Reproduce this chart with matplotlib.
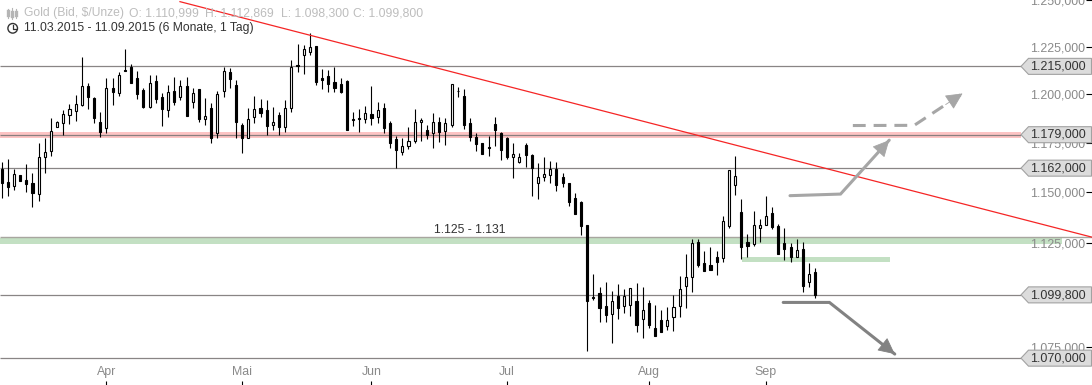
import matplotlib
matplotlib.use('Agg')
import matplotlib.pyplot as plt
from matplotlib.patches import Polygon, Circle
from matplotlib.ticker import NullLocator
from matplotlib.transforms import IdentityTransform
import numpy as np

plt.rcParams['font.family'] = ['Liberation Sans', 'DejaVu Sans']

W, H = 1092, 385

# daily candles, price in $/Unze
opens = [1161.6,1155.0,1153.2,1158.4,1155.9,1154.5,1148.8,1167.8,1170.8,1183.1,
         1185.2,1189.3,1191.3,1194.1,1204.0,1197.7,1185.3,1182.6,1203.4,1200.6,
         1212.5,1214.1,1208.2,1202.0,1193.4,1206.8,1198.2,1191.8,1201.5,1198.2,
         1204.0,1196.1,1202.4,1187.2,1193.0,1179.7,1201.7,1211.3,1204.5,1183.8,
         1177.1,1187.9,1192.5,1191.5,1183.8,1188.9,1183.1,1193.0,1215.1,1220.7,
         1222.1,1225.1,1208.3,1209.2,1206.2,1205.2,1206.8,1187.0,1187.6,1187.2,
         1189.4,1188.2,1193.0,1184.8,1176.8,1170.3,1173.3,1175.9,1185.3,1181.2,
         1180.0,1185.3,1181.0,1184.1,1201.7,1199.2,1184.8,1177.6,1174.6,1172.6,
         1184.3,1179.7,1177.1,1167.8,1165.1,1173.5,1168.9,1154.7,1157.7,1158.7,
         1161.4,1157.4,1154.4,1146.8,1145.0,1133.7,1098.8,1100.5,1094.5,1090.6,
         1099.2,1094.3,1094.8,1096.8,1088.2,1095.7,1084.1,1087.9,1084.9,1089.2,
         1094.3,1103.9,1108.2,1125.3,1115.1,1114.0,1118.0,1117.4,1133.4,1153.4,
         1140.1,1125.2,1124.5,1132.4,1133.9,1139.4,1133.0,1124.7,1122.7,1118.2,
         1121.7,1106.1,1110.999]
highs = [1164.9,1166.4,1161.6,1158.4,1164.1,1159.4,1174.9,1177.1,1187.6,1186.2,
         1191.7,1194.7,1199.4,1219.3,1205.5,1198.7,1190.5,1208.2,1208.2,1211.5,
         1223.5,1215.5,1212.0,1202.9,1210.1,1209.9,1200.6,1204.7,1208.7,1207.3,
         1208.7,1203.4,1202.4,1197.7,1195.4,1201.7,1214.3,1213.4,1207.3,1185.2,
         1192.5,1199.2,1197.2,1196.8,1193.4,1190.8,1196.8,1218.1,1226.6,1225.7,
         1232.0,1225.1,1213.0,1212.5,1214.3,1208.2,1207.1,1190.6,1192.2,1193.7,
         1204.1,1195.8,1195.3,1186.2,1178.3,1177.1,1182.8,1192.2,1187.4,1184.0,
         1190.0,1188.2,1187.4,1205.0,1203.8,1202.4,1187.4,1179.7,1174.6,1178.3,
         1187.9,1180.2,1178.0,1174.9,1169.9,1174.9,1169.4,1164.4,1167.6,1165.6,
         1165.1,1159.7,1154.7,1149.4,1145.5,1133.7,1109.8,1103.6,1106.0,1101.6,
         1104.9,1102.4,1102.9,1105.3,1103.6,1097.3,1094.9,1092.6,1093.9,1099.7,
         1108.9,1119.5,1126.8,1126.8,1120.9,1122.7,1121.1,1138.1,1160.9,1168.1,
         1146.3,1129.3,1140.6,1136.5,1148.0,1142.4,1134.2,1132.1,1124.7,1126.6,
         1125.2,1115.0,1112.869]
lows = [1147.2,1148.2,1151.0,1155.7,1150.2,1142.7,1145.7,1159.4,1168.3,1183.1,
        1178.8,1184.5,1186.2,1193.7,1192.3,1184.8,1178.0,1180.0,1194.2,1198.9,
        1212.2,1205.9,1197.2,1192.5,1192.9,1195.1,1183.6,1188.2,1194.2,1196.8,
        1188.7,1193.0,1185.7,1183.8,1174.9,1177.4,1198.5,1202.9,1177.1,1169.8,
        1177.1,1185.2,1188.2,1178.8,1181.4,1178.8,1180.5,1190.8,1211.6,1210.6,
        1220.4,1204.7,1202.6,1201.2,1201.2,1200.6,1181.6,1183.6,1180.5,1184.8,
        1184.0,1185.2,1179.7,1172.3,1162.2,1168.9,1171.8,1174.9,1175.9,1176.6,
        1172.3,1175.4,1173.7,1183.1,1198.2,1181.9,1175.9,1170.8,1169.1,1168.3,
        1173.3,1166.2,1166.8,1157.2,1164.4,1162.7,1148.2,1146.7,1155.5,1154.4,
        1150.5,1152.7,1143.2,1139.3,1128.8,1073.5,1097.3,1087.0,1087.0,1077.2,
        1088.5,1091.4,1089.9,1082.0,1079.6,1084.0,1080.5,1082.4,1083.2,1082.7,
        1089.5,1093.7,1101.3,1113.4,1111.4,1111.9,1109.3,1115.6,1132.4,1148.5,
        1117.1,1118.0,1123.5,1125.3,1133.9,1131.9,1119.6,1116.6,1115.8,1118.2,
        1101.2,1103.6,1098.3]
closes = [1154.7,1152.7,1159.1,1155.7,1154.2,1149.4,1167.8,1170.4,1180.7,1185.3,
          1189.4,1192.0,1194.6,1204.0,1198.5,1187.4,1180.2,1203.4,1201.2,1209.7,
          1212.2,1205.9,1200.1,1193.4,1205.5,1197.5,1192.3,1200.8,1195.9,1204.0,
          1188.7,1200.3,1186.9,1188.4,1177.1,1199.8,1212.3,1208.0,1185.7,1177.4,
          1186.9,1192.0,1190.3,1183.6,1185.3,1183.1,1192.5,1214.3,1214.6,1223.5,
          1224.8,1206.4,1207.3,1205.4,1203.3,1201.0,1181.6,1186.7,1187.2,1190.0,
          1187.7,1191.7,1182.6,1174.9,1171.3,1173.0,1175.6,1185.3,1186.4,1178.6,
          1185.3,1180.5,1184.8,1205.0,1201.4,1184.1,1177.6,1174.4,1169.3,1172.3,
          1181.4,1171.3,1167.8,1169.4,1167.4,1168.9,1162.1,1157.4,1158.9,1161.4,
          1153.7,1154.7,1145.2,1139.3,1133.4,1097.0,1098.4,1093.7,1090.4,1096.7,
          1093.7,1099.5,1102.9,1085.7,1092.4,1085.7,1080.5,1082.4,1087.7,1093.9,
          1102.4,1108.2,1124.7,1114.2,1111.4,1111.9,1115.8,1135.5,1160.9,1157.9,
          1123.0,1123.5,1133.5,1133.5,1138.0,1132.6,1119.6,1122.1,1118.2,1121.2,
          1104.2,1109.7,1099.8]

month_pos = [17, 39, 60, 82, 105, 124]
month_labels = ['Apr', 'Mai', 'Jun', 'Jul', 'Aug', 'Sep']

tick_vals = [1250, 1225, 1200, 1175, 1150, 1125, 1100, 1075]
tick_labels = ['1.250,000', '1.225,000', '1.200,000', '1.175,000', '1.150,000',
               '1.125,000', '1.100,000', '1.075,000']

level_vals = [1214.5, 1179, 1162, 1099.8, 1070]
level_labels = ['1.215,000', '1.179,000', '1.162,000', '1.099,800', '1.070,000']

trend_x = [28.93, 176.9]
trend_y = [1249.1, 1127.7]

# arrows: (start, knee, tip) in candle index / price
up_x, up_y = [127.9, 136.1, 144.0], [1148.2, 1149.0, 1176.2]
dash_x, dash_y = [138.1, 148.06, 155.9], [1183.7, 1183.8, 1200.3]
down_x, down_y = [126.8, 134.3, 144.9], [1096.2, 1096.2, 1071.9]

fig = plt.figure(figsize=(W / 100, H / 100), dpi=100)
ax = fig.add_axes([0, 0, 1, 1])
ax.set_yscale('log')
ax.set_xlim(-0.27, 176.9)
ax.set_ylim(1057.6, 1249.84)
for s in ax.spines.values():
    s.set_visible(False)

# zones
ax.fill_between([-0.27, 165.4], 1177.2, 1180.4, color='#fdc4c4', lw=0, zorder=1)
ax.fill_between([-0.27, 172.0], 1124.4, 1127.4, color='#c3e0c3', lw=0, zorder=1)
ax.fill_between([120.1, 144.1], 1115.8, 1117.8, color='#c3e0c3', lw=0, zorder=1)
ax.hlines(1127.6, -0.27, 176.9, color='#a8a69f', lw=1.0, zorder=2)

# levels
ax.hlines(level_vals, -0.27, 165.4, color='#7c7878', lw=0.9, alpha=0.9, zorder=2)

# candles
x = np.arange(len(opens))
o, h, l, c = map(np.array, (opens, highs, lows, closes))
up = c >= o
ax.vlines(x, l, h, color='black', lw=0.8, zorder=3)
ax.bar(x[up], (c - o)[up], bottom=o[up], width=0.34, facecolor='white',
       edgecolor='black', lw=0.8, zorder=4)
ax.bar(x[~up], (o - c)[~up], bottom=c[~up], width=0.34, facecolor='black',
       edgecolor='black', lw=0.8, zorder=4)

ax.plot(trend_x, trend_y, color='#f52525', lw=0.9, zorder=5)


def arrow(xs, ys, col, ls='-'):
    # shaft first, head drawn apart so a dashed shaft keeps a solid head
    ax.plot(xs, ys, color=col, lw=2.2, ls=(0, (4.2, 2.6)) if ls != '-' else '-',
            solid_capstyle='round', solid_joinstyle='miter', zorder=5)
    x0 = xs[2] - 0.35 * (xs[2] - xs[1])
    y0 = ys[2] - 0.35 * (ys[2] - ys[1])
    ax.annotate('', xy=(xs[2], ys[2]), xytext=(x0, y0), zorder=5,
                arrowprops=dict(arrowstyle='-|>,head_length=10.5,head_width=5.2', mutation_scale=1,
                                color=col, lw=0.6, shrinkA=0, shrinkB=0))


arrow(up_x, up_y, '#a6a6a6')
arrow(dash_x, dash_y, '#a6a6a6', ls='--')
arrow(down_x, down_y, '#828282')

ax.text(70.2, 1131.0, '1.125 - 1.131', fontsize=8.8, color='#333333', ha='left', va='center', zorder=6)

# axes
ax.yaxis.tick_right()
ax.set_yticks(tick_vals, tick_labels)
ax.yaxis.set_minor_locator(NullLocator())
ax.tick_params(axis='y', direction='in', length=4.3, width=0.8, pad=-5, labelsize=8.9,
               labelcolor='#8a8a8a', color='black')
for t in ax.get_yticklabels():
    t.set_ha('right')
ax.set_xticks(month_pos, month_labels)
ax.tick_params(axis='x', direction='in', length=3, width=0.8, pad=-14, labelsize=8.9,
               labelcolor='#8a8a8a', color='black')

# price tags on the right
fig.canvas.draw()
for val, lab in zip(level_vals, level_labels):
    ypx = ax.transData.transform((0, val))[1]
    ax.add_patch(Polygon([(1021, ypx), (1028.5, ypx + 8), (1091.5, ypx + 8),
                          (1091.5, ypx - 8), (1028.5, ypx - 8)], closed=True,
                         transform=IdentityTransform(), fc='#dcdcdc', ec='#a2a2a2',
                         lw=0.8, zorder=7, clip_on=False))
    ax.text(1086, ypx - 0.3, lab, transform=IdentityTransform(), fontsize=9, color='#333333',
            ha='right', va='center', zorder=8)

# header
header_x = [24, 129, 205, 281, 353]
header_txt = ['Gold (Bid, $/Unze)', 'O: 1.110,999', 'H: 1.112,869', 'L: 1.098,300', 'C: 1.099,800']
for hx, ht in zip(header_x, header_txt):
    fig.text(hx / W, 1 - 13 / H, ht, fontsize=8.7, color='#bdbdbd', ha='left', va='center')
fig.text(23.5 / W, 1 - 28.5 / H, '11.03.2015 - 11.09.2015 (6 Monate, 1 Tag)', fontsize=8.7,
         color='#333333', ha='left', va='center')

# little icons
px = IdentityTransform()
fig.add_artist(Circle((12.7, H - 28.3), 4.8, fc='none', ec='#333333', lw=1.0, transform=px))
fig.add_artist(plt.Line2D([12.7, 12.7, 15.5], [H - 25, H - 28.6, H - 28.6], color='#333333', lw=0.9,
                          transform=px))
for ix, iy0, iy1, by0, by1 in [(8, 18, 9, 15, 11), (12, 19, 8, 16, 12), (16, 18, 9, 15, 12)]:
    fig.add_artist(plt.Line2D([ix, ix], [H - iy0, H - iy1], color='#b5b5b5', lw=0.8, transform=px))
    fig.add_artist(plt.Line2D([ix, ix], [H - by0, H - by1], color='#b5b5b5', lw=2.4, transform=px))

fig.savefig('out.png', dpi=100)
